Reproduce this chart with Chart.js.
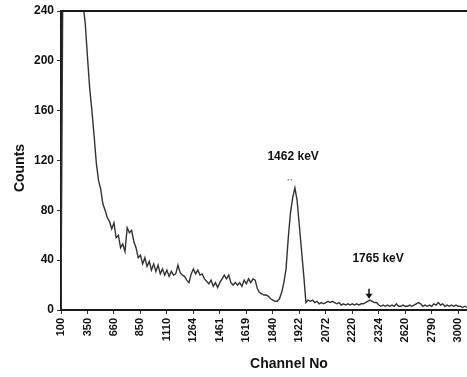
<!DOCTYPE html>
<html>
<head>
<meta charset="utf-8">
<script src="https://cdn.jsdelivr.net/npm/chart.js@4.4.1/dist/chart.umd.min.js"></script>
<style>
html,body{margin:0;padding:0;background:#fff;}
#wrap{width:467px;height:377px;position:relative;}
</style>
</head>
<body>
<div id="wrap"><canvas id="c" width="467" height="377"></canvas></div>
<script>
// Channel tick labels (evenly placed on the axis)
const channelLabels = ['100','350','660','850','1110','1264','1461','1619','1840','1922','2072','2220','2324','2620','2790','3000'];
const pointsPerLabel = 12;
// Counts, one value per plotted point
const counts = [
  0, 320, 400, 420, 410, 390, 370, 350, 330, 300,
  245, 230, 203, 178, 160, 140, 118, 104, 97, 85,
  80, 74, 71, 65, 70, 58, 60, 50, 53, 47,
  66, 62, 64, 55, 50, 42, 44, 37, 42, 35,
  39, 32, 37, 31, 36, 29, 33, 28, 32, 27,
  31, 28, 29, 36, 30, 28, 27, 24, 22, 29,
  33, 29, 32, 28, 29, 25, 23, 21, 24, 19,
  22, 18, 22, 25, 28, 25, 28, 22, 20, 22,
  20, 22, 19, 24, 21, 25, 22, 25, 24, 17,
  14, 13, 12, 12, 11, 9, 8, 7, 7, 9,
  14, 22, 33, 58, 78, 90, 98, 88, 68, 48,
  28, 6, 8, 7, 8, 6, 7, 5, 6, 5,
  6, 7, 6, 7, 6, 5, 6, 4, 5, 4,
  5, 4, 5, 4, 5, 4, 5, 5, 6, 7,
  8, 7, 6, 6, 4, 3, 4, 3, 4, 3,
  4, 3, 5, 3, 3, 4, 3, 3, 4, 3,
  4, 5, 6, 5, 3, 4, 3, 4, 3, 5,
  4, 6, 4, 5, 3, 4, 3, 4, 3, 4,
  3, 3, 2, 3, 2
];
const yTicks = [0, 40, 80, 120, 160, 200, 240];
const annotations = [
  {text: '1462 keV', x: 105.2, y: 123},
  {text: '1765 keV', x: 143.7, y: 41}
];
const arrowAt = {x: 139.6, yTop: 17, yTip: 9};
const dotsAt = {x: 103.6, y: 105};

const points = counts.map((v, i) => ({x: i, y: v}));
const BOLD = 'bold 12px "Liberation Sans", Arial, sans-serif';

const decor = {
  id: 'decor',
  afterDraw(chart) {
    const ctx = chart.ctx, ca = chart.chartArea;
    const xs = chart.scales.x, ys = chart.scales.y;
    ctx.save();
    // top frame line
    ctx.strokeStyle = '#1a1a1a'; ctx.lineWidth = 2;
    ctx.beginPath(); ctx.moveTo(ca.left, ca.top); ctx.lineTo(ca.right, ca.top); ctx.stroke();
    // annotations
    ctx.fillStyle = '#111'; ctx.font = BOLD;
    ctx.textAlign = 'center'; ctx.textBaseline = 'middle';
    annotations.forEach(a => ctx.fillText(a.text, xs.getPixelForValue(a.x), ys.getPixelForValue(a.y)));
    // tiny dots above the 1462 peak
    const dx = xs.getPixelForValue(dotsAt.x), dy = ys.getPixelForValue(dotsAt.y);
    ctx.fillStyle = '#777';
    ctx.fillRect(dx - 2, dy, 1.5, 1.2); ctx.fillRect(dx + 1, dy, 1.5, 1.2);
    // arrow
    const ax = xs.getPixelForValue(arrowAt.x);
    const at = ys.getPixelForValue(arrowAt.yTop), ap = ys.getPixelForValue(arrowAt.yTip);
    ctx.strokeStyle = '#111'; ctx.lineWidth = 1.5;
    ctx.beginPath(); ctx.moveTo(ax, at); ctx.lineTo(ax, ap - 4); ctx.stroke();
    ctx.fillStyle = '#111';
    ctx.beginPath(); ctx.moveTo(ax - 3.5, ap - 5); ctx.lineTo(ax + 3.5, ap - 5); ctx.lineTo(ax, ap); ctx.closePath(); ctx.fill();
    // axis titles
    ctx.fillStyle = '#111';
    ctx.font = 'bold 14px "Liberation Sans", Arial, sans-serif';
    ctx.fillText('Channel No', 289, 364);
    ctx.translate(20, 168); ctx.rotate(-Math.PI / 2);
    ctx.fillText('Counts', 0, 0);
    ctx.restore();
  }
};

new Chart(document.getElementById('c'), {
  type: 'line',
  data: {
    datasets: [{
      data: points,
      borderColor: '#333',
      borderWidth: 1.4,
      pointRadius: 0,
      fill: false,
      tension: 0
    }]
  },
  options: {
    responsive: false,
    animation: false,
    layout: {padding: {top: 11, right: 0, bottom: 0, left: 0}},
    plugins: {legend: {display: false}, tooltip: {enabled: false}},
    scales: {
      x: {
        type: 'linear',
        min: 0,
        max: counts.length - 1,
        afterBuildTicks(s) {
          s.ticks = channelLabels.map((_, k) => ({value: k * pointsPerLabel}));
        },
        afterFit(s) { s.height = 67; s.paddingLeft = 0; s.paddingRight = 0; },
        ticks: {
          autoSkip: false,
          minRotation: 90, maxRotation: 90,
          padding: 4,
          color: '#111',
          font: {family: '"Liberation Sans", Arial, sans-serif', size: 11, weight: 'bold'},
          callback: (v) => channelLabels[Math.round(v / pointsPerLabel)]
        },
        grid: {display: true, drawOnChartArea: false, drawTicks: true, tickLength: 4, color: '#333'},
        border: {display: true, color: '#1a1a1a', width: 2}
      },
      y: {
        min: 0, max: 240,
        afterBuildTicks(s) { s.ticks = yTicks.map(v => ({value: v})); },
        afterFit(s) { s.width = 61; s.paddingTop = 0; s.paddingBottom = 0; },
        ticks: {
          padding: 3,
          color: '#111',
          font: {family: '"Liberation Sans", Arial, sans-serif', size: 12, weight: 'bold'}
        },
        grid: {display: true, drawOnChartArea: false, drawTicks: true, tickLength: 4, color: '#333'},
        border: {display: true, color: '#1a1a1a', width: 2}
      }
    }
  },
  plugins: [decor]
});
</script>
</body>
</html>
